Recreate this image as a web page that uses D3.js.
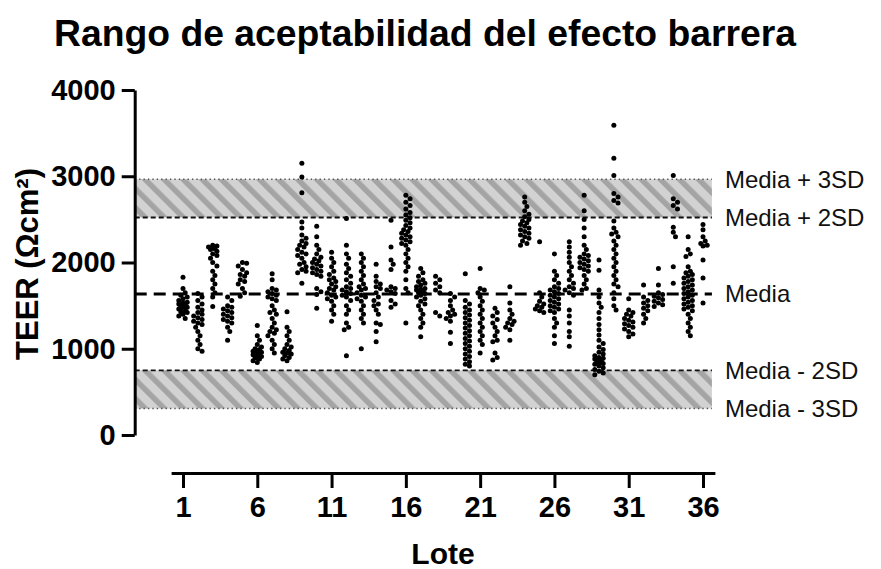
<!DOCTYPE html>
<html>
<head>
<meta charset="utf-8">
<script src="https://cdn.jsdelivr.net/npm/d3@7"></script>
<style>
  body { margin: 0; background: #fff; }
  svg { display: block; font-family: "Liberation Sans", Arial, sans-serif; }
</style>
</head>
<body>
<svg id="chart" width="881" height="569"></svg>
<script>
// ---------------------------------------------------------------
// data

const titulo = "Rango de aceptabilidad del efecto barrera";
const lotes = d3.range(1, 37);
const xTicks = [1, 6, 11, 16, 21, 26, 31, 36];
const yTicks = [0, 1000, 2000, 3000, 4000];

const mediaTEER = 1636;
const sdTEER = 443;
const bandLabels = ["Media + 3SD", "Media + 2SD", "Media", "Media - 2SD", "Media - 3SD"];
const bandFactors = [3, 2, 0, -2, -3];

// TEER values, one list per lote (1..36)
const teerByLote = [
  [1830, 1700, 1650, 1620, 1600, 1580, 1560, 1540, 1530, 1520, 1510, 1500, 1490, 1480, 1470, 1460, 1450, 1440, 1430, 1420, 1400, 1380, 1350],
  [1640, 1600, 1560, 1520, 1480, 1450, 1420, 1400, 1380, 1360, 1340, 1320, 1300, 1280, 1250, 1200, 1150, 1100, 1050, 1000, 970],
  [2200, 2190, 2180, 2170, 2160, 2150, 2130, 2100, 2080, 2050, 2000, 1960, 1900, 1850, 1800, 1750, 1700, 1650, 1600, 1490],
  [1600, 1560, 1500, 1480, 1460, 1440, 1420, 1400, 1380, 1360, 1340, 1320, 1300, 1250, 1200, 1100],
  [2000, 1990, 1960, 1920, 1880, 1860, 1840, 1800, 1780, 1750, 1700, 1650, 1610],
  [1270, 1150, 1100, 1050, 1020, 1000, 990, 980, 970, 960, 950, 940, 930, 920, 910, 900, 890, 880, 860, 840],
  [1870, 1800, 1700, 1680, 1660, 1640, 1620, 1600, 1580, 1560, 1500, 1450, 1420, 1400, 1350, 1300, 1250, 1220, 1200, 1180, 1150, 1100, 1050, 1000, 950],
  [1430, 1250, 1200, 1150, 1100, 1050, 1020, 1000, 980, 960, 950, 940, 920, 900, 880, 860],
  [3150, 2990, 2810, 2470, 2400, 2320, 2280, 2250, 2220, 2200, 2180, 2150, 2120, 2100, 2080, 2050, 2000, 1980, 1950, 1920, 1900, 1880, 1760],
  [2420, 2300, 2200, 2150, 2100, 2060, 2040, 2020, 2000, 1980, 1960, 1940, 1920, 1900, 1880, 1860, 1840, 1700, 1660, 1630, 1470],
  [2120, 2050, 2000, 1950, 1900, 1860, 1820, 1800, 1780, 1750, 1720, 1700, 1680, 1650, 1620, 1600, 1580, 1550, 1500, 1450, 1400, 1320],
  [2510, 2200, 2100, 2050, 1980, 1930, 1880, 1840, 1800, 1760, 1720, 1700, 1680, 1660, 1640, 1620, 1600, 1560, 1500, 1450, 1400, 1300, 1250, 1220, 920],
  [2100, 2050, 2000, 1950, 1900, 1850, 1800, 1750, 1720, 1700, 1680, 1650, 1620, 1600, 1580, 1550, 1500, 1450, 1400, 1350, 1300, 1000],
  [1980, 1840, 1780, 1750, 1720, 1700, 1650, 1600, 1560, 1520, 1500, 1450, 1400, 1300, 1280, 1200, 1080],
  [2490, 2180, 2030, 1980, 1920, 1720, 1700, 1680, 1660, 1640, 1560, 1520, 1480],
  [2780, 2740, 2700, 2660, 2620, 2580, 2550, 2520, 2490, 2460, 2430, 2400, 2380, 2360, 2340, 2320, 2300, 2280, 2260, 2240, 2220, 2200, 2150, 2100, 2050, 2000, 1950, 1900, 1800, 1700, 1650, 1300],
  [1930, 1880, 1840, 1800, 1780, 1760, 1740, 1720, 1700, 1690, 1680, 1670, 1660, 1650, 1640, 1620, 1600, 1580, 1550, 1520, 1500, 1450, 1400, 1350, 1300, 1250, 1140],
  [1840, 1800, 1760, 1720, 1680, 1650, 1420, 1380],
  [1640, 1600, 1560, 1500, 1450, 1420, 1400, 1380, 1350, 1320, 1190, 1060],
  [1870, 1560, 1520, 1480, 1450, 1420, 1390, 1360, 1330, 1300, 1270, 1240, 1210, 1180, 1150, 1120, 1090, 1060, 1030, 1000, 970, 940, 910, 880, 850, 820, 800],
  [1930, 1700, 1680, 1650, 1600, 1550, 1500, 1450, 1400, 1350, 1300, 1250, 1200, 1150, 1100, 1050, 950],
  [1470, 1420, 1380, 1340, 1300, 1250, 1200, 1150, 1100, 1080, 950, 900, 870],
  [1720, 1530, 1450, 1400, 1350, 1320, 1300, 1280, 1250, 1220, 1100],
  [2760, 2700, 2650, 2600, 2560, 2530, 2500, 2480, 2460, 2440, 2420, 2400, 2380, 2360, 2340, 2320, 2300, 2280, 2250, 2220, 2200],
  [2240, 1650, 1600, 1550, 1520, 1500, 1480, 1460, 1440, 1420],
  [2100, 1900, 1850, 1800, 1760, 1720, 1700, 1680, 1660, 1640, 1620, 1600, 1580, 1560, 1540, 1520, 1500, 1480, 1460, 1440, 1420, 1350, 1300, 1250, 1150, 1060],
  [2240, 2180, 2120, 2060, 2000, 1950, 1900, 1850, 1800, 1760, 1720, 1700, 1680, 1650, 1620, 1450, 1380, 1300, 1200, 1140, 1030],
  [2780, 2600, 2500, 2400, 2300, 2200, 2150, 2100, 2080, 2060, 2040, 2020, 2000, 1980, 1960, 1940, 1920, 1900, 1850, 1800, 1750, 1700, 1680],
  [2030, 1910, 1680, 1600, 1530, 1480, 1420, 1350, 1280, 1220, 1160, 1100, 1060, 1020, 990, 960, 940, 920, 900, 890, 880, 870, 860, 850, 840, 830, 820, 800, 780, 760, 740, 720, 700],
  [3590, 3210, 3010, 2800, 2760, 2720, 2690, 2480, 2400, 2350, 2330, 2300, 2250, 2200, 2150, 2100, 2050, 2000, 1950, 1900, 1850, 1800, 1750, 1720, 1650, 1580, 1500, 1450],
  [1580, 1450, 1420, 1400, 1380, 1350, 1330, 1310, 1290, 1270, 1250, 1230, 1200, 1170, 1140],
  [1740, 1600, 1560, 1530, 1500, 1470, 1440, 1400, 1350, 1300],
  [1930, 1740, 1650, 1630, 1610, 1590, 1570, 1550, 1530, 1510, 1490],
  [3010, 2740, 2700, 2660, 2620, 2410, 2350, 2300, 1950, 1760],
  [2300, 2150, 2100, 2070, 1950, 1900, 1880, 1860, 1840, 1820, 1800, 1780, 1760, 1740, 1720, 1700, 1680, 1660, 1640, 1620, 1600, 1580, 1560, 1540, 1520, 1500, 1480, 1460, 1440, 1400, 1350, 1300, 1250, 1200, 1150],
  [2440, 2380, 2300, 2250, 2220, 2200, 2190, 2030, 1820, 1530]
];


// ---------------------------------------------------------------
// scales

let svg = d3.select("#chart");

let x = d3.scaleLinear().domain([1, 36]).range([183, 703]);
let y = d3.scaleLinear().domain([0, 4000]).range([435, 90]);

// horizontal extent of the plotting area, in lote units
let plotLeft = -2.25, plotRight = 36.6;


// ---------------------------------------------------------------
// hatched bands

let defs = svg.append("defs");
let pat = defs.append("pattern")
  .attr("id", "hatch")
  .attr("patternUnits", "userSpaceOnUse")
  .attr("width", 13.5)
  .attr("height", 13.5)
  .attr("patternTransform", "rotate(-45)");
pat.append("rect").attr("width", 13.5).attr("height", 13.5).attr("fill", "#d2d2d2");
pat.append("rect").attr("width", 5.5).attr("height", 13.5).attr("fill", "#a4a4a4");

let bands = [[2, 3], [-3, -2]];
svg.append("g").selectAll("rect")
  .data(bands)
  .enter().append("rect")
  .attr("x", x(plotLeft))
  .attr("width", x(plotRight) - x(plotLeft))
  .attr("y", d => y(mediaTEER + d[1] * sdTEER))
  .attr("height", d => y(mediaTEER + d[0] * sdTEER) - y(mediaTEER + d[1] * sdTEER))
  .attr("fill", "url(#hatch)");

// reference lines
function lineStyle(k) {
  if (k === 0) return { w: 3, dash: "12,7", col: "#000" };
  if (Math.abs(k) === 2) return { w: 1.8, dash: "5,3", col: "#111" };
  return { w: 1.4, dash: "1.4,3", col: "#555" };
}

svg.append("g").selectAll("line")
  .data(bandFactors)
  .enter().append("line")
  .attr("x1", x(plotLeft))
  .attr("x2", x(plotRight))
  .attr("y1", k => y(mediaTEER + k * sdTEER))
  .attr("y2", k => y(mediaTEER + k * sdTEER))
  .attr("stroke", k => lineStyle(k).col)
  .attr("stroke-width", k => lineStyle(k).w)
  .attr("stroke-dasharray", k => lineStyle(k).dash);

svg.append("g").selectAll("text")
  .data(bandFactors)
  .enter().append("text")
  .attr("x", x(plotRight) + 13)
  .attr("y", k => y(mediaTEER + k * sdTEER))
  .attr("dy", "0.35em")
  .attr("font-size", 24)
  .attr("fill", "#111")
  .text((k, i) => bandLabels[i]);


// ---------------------------------------------------------------
// dots, spread sideways a little so they do not pile up (narrow beeswarm)

let r = 2.5;
let dots = [];
lotes.forEach(function(lote, i) {
  let placed = [];
  let vals = teerByLote[i].slice().sort((a, b) => b - a);
  vals.forEach(function(v) {
    let cy = y(v);
    let off = 0, best = Infinity;
    // try a few sideways slots, keep the one that overlaps least
    [0, 2.2, -2.2, 4.2, -4.2].forEach(function(cand) {
      let worst = 0;
      placed.forEach(function(p) {
        let d = Math.sqrt((p.dx - cand) ** 2 + (p.cy - cy) ** 2);
        worst = Math.max(worst, 2 * r - d);
      });
      if (worst < best - 0.3) { best = worst; off = cand; }
    });
    placed.push({ dx: off, cy: cy });
    dots.push({ cx: x(lote) + off, cy: cy });
  });
});

svg.append("g").selectAll("circle")
  .data(dots)
  .enter().append("circle")
  .attr("cx", d => d.cx)
  .attr("cy", d => d.cy)
  .attr("r", r)
  .attr("fill", "#000");


// ---------------------------------------------------------------
// axes

let yAxis = svg.append("g")
  .attr("transform", "translate(" + x(plotLeft) + ",0)")
  .call(d3.axisLeft(y).tickValues(yTicks).tickFormat(d3.format("d"))
          .tickSize(13).tickSizeOuter(0).tickPadding(6));

let xAxisScale = d3.scaleLinear()
  .domain([0.2, 36.8])
  .range([x(0.2), x(36.8)]);

let xAxis = svg.append("g")
  .attr("transform", "translate(0,473)")
  .call(d3.axisBottom(xAxisScale).tickValues(xTicks).tickFormat(d3.format("d"))
          .tickSize(15).tickSizeOuter(0).tickPadding(8));

[yAxis, xAxis].forEach(function(g) {
  g.selectAll("path, line").attr("stroke", "#000").attr("stroke-width", 3);
  g.selectAll("text")
    .attr("font-family", "'Liberation Sans', Arial, sans-serif")
    .attr("font-size", 29)
    .attr("font-weight", "bold")
    .attr("fill", "#000");
});

// titles
svg.append("text")
  .attr("x", 54)
  .attr("y", 46)
  .attr("font-size", 36)
  .attr("font-weight", "bold")
  .attr("textLength", 742)
  .attr("lengthAdjust", "spacingAndGlyphs")
  .text(titulo);

svg.append("text")
  .attr("transform", "translate(38,264) rotate(-90)")
  .attr("text-anchor", "middle")
  .attr("font-size", 31)
  .attr("font-weight", "bold")
  .text("TEER (Ωcm²)");

svg.append("text")
  .attr("x", (x(0.2) + x(36.8)) / 2)
  .attr("y", 564)
  .attr("text-anchor", "middle")
  .attr("font-size", 30)
  .attr("font-weight", "bold")
  .text("Lote");
</script>
</body>
</html>
